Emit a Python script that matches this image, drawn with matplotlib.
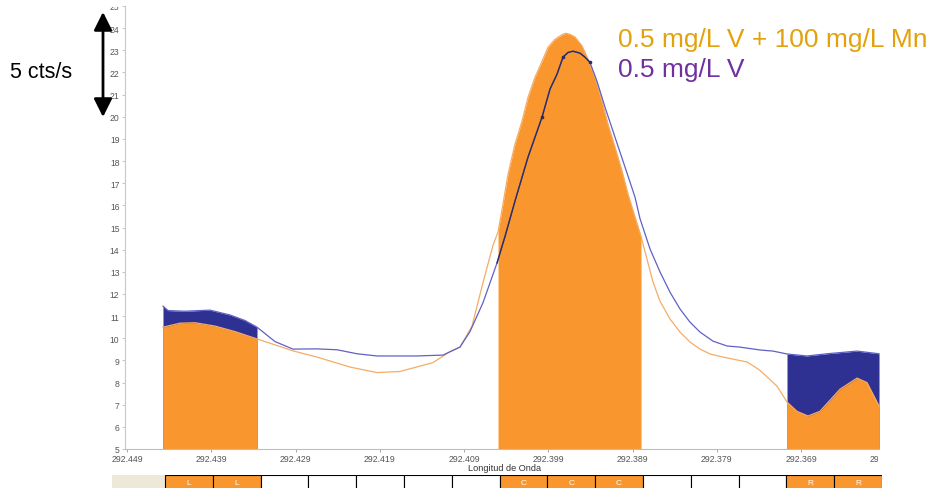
import numpy as np
import matplotlib
matplotlib.use("Agg")
import matplotlib.pyplot as plt
from matplotlib.patches import FancyArrowPatch
from matplotlib.transforms import Bbox, TransformedBbox

# ---------------- data ----------------
blue_wl = np.array([
    292.44473, 292.44413, 292.44212, 292.43915, 292.43677, 292.43499, 292.43357,
    292.43143, 292.42930, 292.42645, 292.42407, 292.42170, 292.41933, 292.41458,
    292.41149, 292.40948, 292.40829, 292.40675, 292.40508, 292.40413, 292.40295,
    292.40140, 292.39974, 292.39879, 292.39796, 292.39725, 292.39666, 292.39606,
    292.39523, 292.39464, 292.39405, 292.39321, 292.39226, 292.39108, 292.38989,
    292.38870, 292.38811, 292.38692, 292.38574, 292.38455, 292.38336, 292.38218,
    292.38099, 292.37945, 292.37778, 292.37624, 292.37387, 292.37232, 292.37066,
    292.36829, 292.36591, 292.36235, 292.35974])
blue_cts = np.array([
    11.45, 11.25, 11.22, 11.27, 11.05, 10.80, 10.50,
    9.85, 9.51, 9.52, 9.48, 9.30, 9.20, 9.20,
    9.24, 9.60, 10.30, 11.60, 13.40, 14.60, 16.19,
    18.18, 19.98, 21.25, 21.92, 22.69, 22.90, 22.96,
    22.87, 22.69, 22.46, 21.60, 20.43, 19.08, 17.73,
    16.37, 15.40, 14.03, 13.00, 12.08, 11.32, 10.73,
    10.28, 9.87, 9.65, 9.60, 9.47, 9.42, 9.29,
    9.20, 9.30, 9.42, 9.30])

orange_wl = np.array([
    292.44473, 292.44271, 292.44093, 292.43856, 292.43618, 292.43357, 292.43143,
    292.42930, 292.42645, 292.42253, 292.41933, 292.41660, 292.41268, 292.41066,
    292.40948, 292.40805, 292.40675, 292.40556, 292.40496, 292.40449, 292.40378,
    292.40295, 292.40212, 292.40140, 292.40057, 292.39974, 292.39903, 292.39820,
    292.39725, 292.39689, 292.39642, 292.39583, 292.39499, 292.39428, 292.39345,
    292.39262, 292.39191, 292.39108, 292.39025, 292.38953, 292.38870, 292.38799,
    292.38728, 292.38657, 292.38574, 292.38455, 292.38336, 292.38218, 292.38099,
    292.37980, 292.37826, 292.37660, 292.37541, 292.37446, 292.37387, 292.37185,
    292.37066, 292.36948, 292.36817, 292.36675, 292.36437, 292.36235, 292.36117,
    292.35974])
orange_cts = np.array([
    10.50, 10.68, 10.70, 10.55, 10.30, 9.97, 9.70,
    9.43, 9.15, 8.70, 8.45, 8.50, 8.90, 9.40,
    9.60, 10.55, 12.50, 14.20, 14.80, 15.80, 17.40,
    18.76, 19.80, 20.88, 21.79, 22.50, 23.14, 23.50,
    23.73, 23.77, 23.72, 23.60, 23.20, 22.60, 21.79,
    20.70, 19.66, 18.63, 17.55, 16.50, 15.47, 14.60,
    13.57, 12.54, 11.68, 10.87, 10.28, 9.83, 9.51,
    9.29, 9.15, 9.02, 8.93, 8.70, 8.55, 7.84,
    7.12, 6.70, 6.49, 6.70, 7.70, 8.20, 8.00,
    6.94])

# integration regions (wavelength from, to)
region_L = (292.44473, 292.43357)
region_C = (292.40496, 292.38799)
region_R = (292.37066, 292.35974)

x_ticks = [292.449, 292.439, 292.429, 292.419, 292.409, 292.399,
           292.389, 292.379, 292.369, 292.359]
x_ticklabels = ["292.449", "292.439", "292.429", "292.419", "292.409",
                "292.399", "292.389", "292.379", "292.369", "292.359"]
y_ticks = list(range(5, 26))

strip_labels = ["L", "L", "", "", "", "", "", "C", "C", "C", "", "", "", "R", "R"]

label_mn = "0.5 mg/L V + 100 mg/L Mn"
label_v = "0.5 mg/L V"
scale_label = "5 cts/s"
xlabel = "Longitud de Onda"

# ---------------- style ----------------
ORANGE_FILL = "#F9962E"
NAVY_FILL = "#2E3192"
BLUE_LINE = "#6060C8"
DARK_LINE = "#2C2C5E"
ORANGE_LINE = "#F5AC66"
TICK_FONT = ["Liberation Sans Narrow", "Liberation Sans", "DejaVu Sans"]

W, H = 935, 489
fig = plt.figure(figsize=(W / 100, H / 100), dpi=100)
fig.patch.set_facecolor("white")

ax_l, ax_r = 125, 890
ax_b, ax_t = 450, 7
ax = fig.add_axes([ax_l / W, (H - ax_b) / H, (ax_r - ax_l) / W, (ax_b - ax_t) / H])
px_per_unit = 8425.0
x_left = 292.449 + (127 - ax_l) / px_per_unit
x_right = 292.449 - (ax_r - 127) / px_per_unit
ax.set_xlim(x_left, x_right)
ax.set_ylim(5, 25)


def in_region(x, reg):
    return (x <= reg[0] + 1e-7) & (x >= reg[1] - 1e-7)


# navy (blue series) fill in the background regions
for reg in (region_L, region_R):
    m = in_region(blue_wl, reg)
    ax.fill_between(blue_wl[m], 5, blue_cts[m], color=NAVY_FILL, lw=0, zorder=1)
# orange fill in all regions
for reg in (region_L, region_C, region_R):
    m = in_region(orange_wl, reg)
    ax.fill_between(orange_wl[m], 5, orange_cts[m], color=ORANGE_FILL, lw=0, zorder=2)

ax.plot(orange_wl, orange_cts, color=ORANGE_LINE, lw=0.9, zorder=3)
ax.plot(blue_wl, blue_cts, color=BLUE_LINE, lw=0.9, zorder=4)
md = (blue_wl <= 292.40508) & (blue_wl >= 292.39405)
ax.plot(blue_wl[md], blue_cts[md], color=DARK_LINE, lw=1.0, zorder=5,
        marker="o", markersize=1.6, markevery=[4, 7, 12])

for s in ("top", "right"):
    ax.spines[s].set_visible(False)
ax.spines["left"].set_color("#C8C8C8")
ax.spines["bottom"].set_color("#BDBDBD")
ax.spines["left"].set_linewidth(0.8)
ax.spines["bottom"].set_linewidth(0.8)
ax.spines["bottom"].set_bounds(x_left, region_R[1])

ax.set_xticks(x_ticks)
ax.set_xticklabels(x_ticklabels, fontsize=6.3, color="#555555", family=TICK_FONT)
ax.set_yticks(y_ticks)
ax.set_yticklabels([str(v) for v in y_ticks], fontsize=6.2, color="#555555", family=TICK_FONT)
ax.tick_params(axis="x", length=2, width=0.6, color="#999999", pad=1.5)
ax.tick_params(axis="y", length=2.5, width=0.6, color="#BBBBBB", pad=1.5)
ax.xaxis.get_major_ticks()[-1].tick1line.set_visible(False)

xclip = TransformedBbox(Bbox([[0, 0], [878 / W, 1]]), fig.transFigure)
for lab in ax.get_xticklabels():
    lab.set_clip_on(True)
    lab.set_clip_box(xclip)
yclip = TransformedBbox(Bbox([[0, 0], [1, (H - 8) / H]]), fig.transFigure)
for lab in ax.get_yticklabels():
    lab.set_clip_on(True)
    lab.set_clip_box(yclip)

fig.text(505 / W, (H - 469) / H, xlabel, fontsize=6.6, color="#333333",
         family=TICK_FONT, ha="center", va="center")

# legend-like annotations
fig.text(618 / W, (H - 47) / H, label_mn, fontsize=19, color="#E3A20B",
         family=["Liberation Sans", "DejaVu Sans"], ha="left", va="baseline")
fig.text(618 / W, (H - 77) / H, label_v, fontsize=19, color="#7030A0",
         family=["Liberation Sans", "DejaVu Sans"], ha="left", va="baseline")

# scale arrow
arrow = FancyArrowPatch((103, H - 13), (103, H - 118), transform=None,
                        arrowstyle="<|-|>,head_length=1.1,head_width=0.55",
                        mutation_scale=10, color="black", lw=2,
                        shrinkA=0, shrinkB=0)
fig.add_artist(arrow)
fig.text(10 / W, (H - 73) / H, scale_label, fontsize=15.5, color="black",
         family=["Liberation Sans", "DejaVu Sans"], ha="left", va="center")

# bottom region strip
st_l, st_r = 112, 882
st_top, st_bot = 476, 494
cell_px = (882 - 165) / len(strip_labels)
gray_cells = (165 - st_l) / cell_px
sax = fig.add_axes([st_l / W, (H - st_bot) / H, (st_r - st_l) / W, (st_bot - st_top) / H])
sax.set_facecolor("#ECE9D8")
sax.set_xlim(-gray_cells, len(strip_labels))
sax.set_ylim(0, 1)
cols = [ORANGE_FILL if s else "white" for s in strip_labels]
sax.bar(np.arange(len(strip_labels)) + 0.5, [1] * len(strip_labels), width=1,
        color=cols, edgecolor="black", linewidth=0.8)
for i, s in enumerate(strip_labels):
    if s:
        sax.text(i + 0.5, 0.58, s, color="white", fontsize=6, ha="center",
                 va="center", family=TICK_FONT)
sax.set_xticks([])
sax.set_yticks([])
for s in sax.spines.values():
    s.set_visible(False)

fig.savefig("out.png", dpi=100)
